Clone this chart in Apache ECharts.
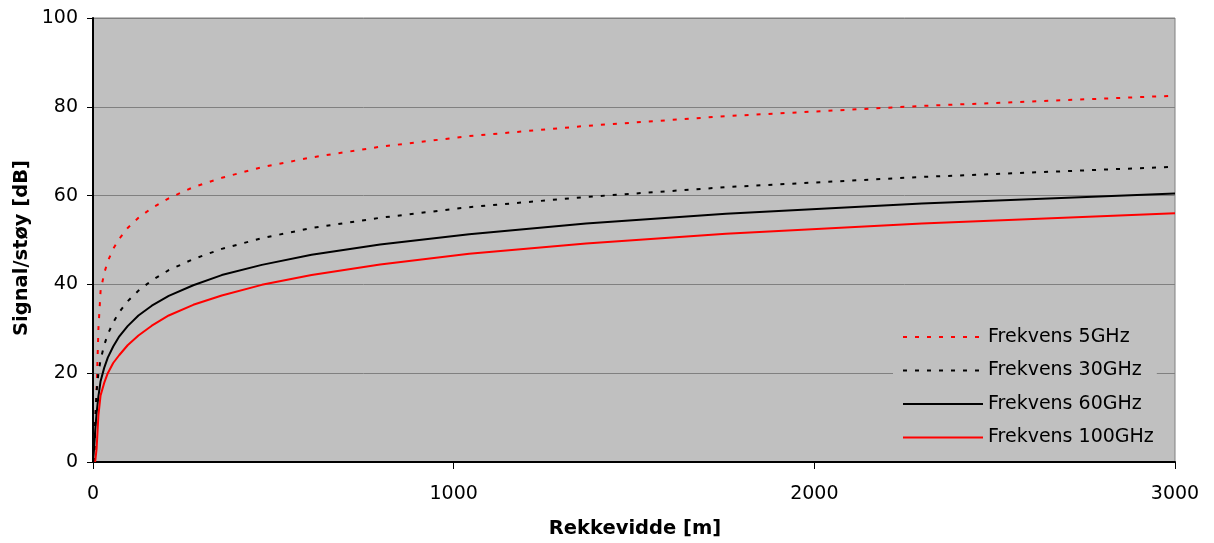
<!DOCTYPE html>
<html>
<head>
<meta charset="utf-8">
<script src="https://cdn.jsdelivr.net/npm/echarts@6/dist/echarts.min.js"></script>
<style>
html,body{margin:0;padding:0;background:#fff;}
#c{width:1214px;height:543px;}
</style>
</head>
<body>
<div id="c"></div>
<script>
// Range in metres (x values shared by all series)
var distance = [0, 3, 6, 10, 15, 21, 31, 41, 56, 73, 96, 126, 163, 210, 278, 357, 468, 606, 796, 1043, 1367, 1755, 2298, 3000];
// Signal/noise [dB] per frequency
var f5GHz   = [null, 0, 8, 16, 30, 38.5, 42.5, 45.2, 48, 50.3, 52.7, 55, 57.2, 59.4, 61.9, 64, 66.4, 68.6, 71, 73.4, 75.7, 77.9, 80.2, 82.5];
var f30GHz  = [null, 0, 9, 16, 20, 23, 26.3, 28.8, 31.4, 33.8, 36.2, 38.6, 40.9, 43.2, 45.7, 48, 50.4, 52.7, 55, 57.4, 59.7, 61.9, 64.2, 66.5];
var f60GHz  = [0, 3, 7, 11, 14.8, 18.2, 21.2, 23.5, 26.0, 28.3, 30.6, 33.0, 35.2, 37.4, 39.8, 42.1, 44.4, 46.7, 49.0, 51.3, 53.7, 55.9, 58.2, 60.5];
var f100GHz = [null, null, 0, 3, 10.5, 15, 17.8, 20.0, 22.3, 24.1, 26.3, 28.5, 30.7, 33.0, 35.4, 37.5, 39.9, 42.1, 44.5, 46.9, 49.2, 51.4, 53.7, 56.0];
var seriesNames = ['Frekvens 5GHz', 'Frekvens 30GHz', 'Frekvens 60GHz', 'Frekvens 100GHz'];
var xTitle = 'Rekkevidde [m]';
var yTitle = 'Signal/støy [dB]';

function pairs(ys) {
  var out = [];
  for (var i = 0; i < distance.length; i++) {
    if (ys[i] !== null) out.push([distance[i], ys[i]]);
  }
  return out;
}

var FONT = '"DejaVu Sans", Arial, sans-serif';
var chart = echarts.init(document.getElementById('c'), null, {renderer: 'canvas'});

var styles = [
  {color: '#FF0000', type: [4, 8]},
  {color: '#000000', type: [4, 8]},
  {color: '#000000', type: 'solid'},
  {color: '#FF0000', type: 'solid'}
];
var dataSets = [f5GHz, f30GHz, f60GHz, f100GHz];

var series = dataSets.map(function (d, i) {
  return {
    name: seriesNames[i],
    type: 'line',
    data: pairs(d),
    symbol: 'none',
    showSymbol: false,
    smooth: false,
    animation: false,
    lineStyle: {color: styles[i].color, width: 2, type: styles[i].type},
    itemStyle: {color: styles[i].color}
  };
});

chart.setOption({
  animation: false,
  backgroundColor: '#ffffff',
  grid: {
    left: 93, right: 39, top: 18, bottom: 81,
    show: true, backgroundColor: '#C0C0C0', borderColor: '#808080', borderWidth: 1
  },
  xAxis: {
    type: 'value', min: 0, max: 3000, interval: 1000,
    axisLine: {show: true, onZero: false, lineStyle: {color: '#000', width: 2}},
    axisTick: {show: true, inside: false, length: 7, lineStyle: {color: '#000', width: 1}},
    axisLabel: {color: '#000', fontFamily: FONT, fontSize: 19, margin: 23,
      formatter: function (v) { return String(v); }},
    splitLine: {show: false}
  },
  yAxis: {
    type: 'value', min: 0, max: 100, interval: 20,
    axisLine: {show: true, onZero: false, lineStyle: {color: '#000', width: 2}},
    axisTick: {show: true, inside: false, length: 6, lineStyle: {color: '#000', width: 1}},
    axisLabel: {color: '#000', fontFamily: FONT, fontSize: 19, margin: 15},
    splitLine: {show: true, lineStyle: {color: '#808080', width: 1}}
  },
  legend: {
    orient: 'vertical',
    left: 893, top: 318,
    padding: [9, 3, 8, 9],
    backgroundColor: '#C0C0C0',
    itemWidth: 80, itemHeight: 20, itemGap: 13.5,
    itemStyle: {color: 'rgba(0,0,0,0)', borderWidth: 0, opacity: 0},
    textStyle: {color: '#000', fontFamily: FONT, fontSize: 19, lineHeight: 20},
    data: seriesNames
  },
  graphic: [
    {
      type: 'text', x: 635, y: 529, z: 10,
      style: {text: xTitle, font: 'bold 19.5px ' + FONT, fill: '#000', textAlign: 'center', textVerticalAlign: 'middle'}
    },
    {
      type: 'text', x: 22, y: 248, rotation: Math.PI / 2, z: 10,
      style: {text: yTitle, font: 'bold 19.5px ' + FONT, fill: '#000', textAlign: 'center', textVerticalAlign: 'middle'}
    }
  ],
  series: series
});
</script>
</body>
</html>
